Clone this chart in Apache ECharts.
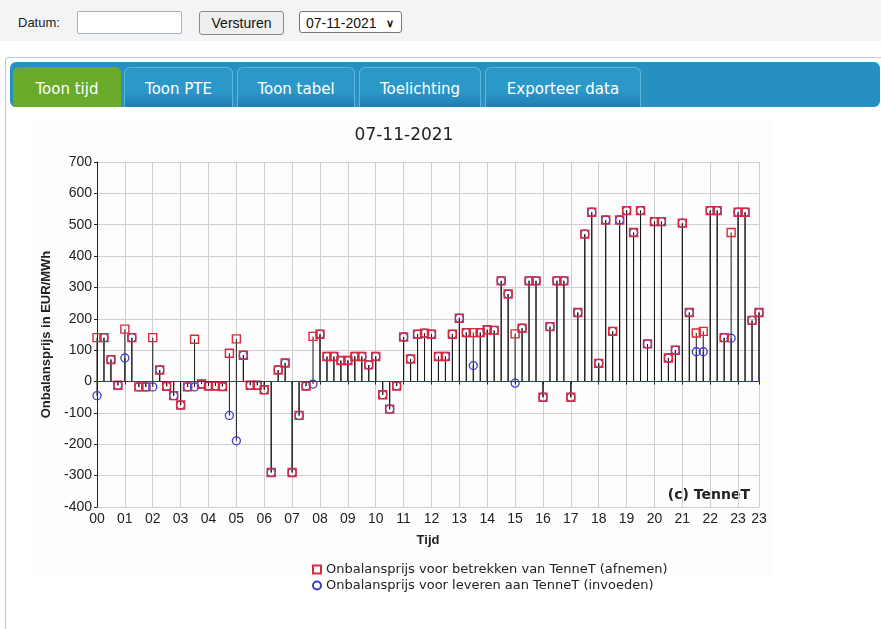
<!DOCTYPE html>
<html>
<head>
<meta charset="utf-8">
<title>Onbalansprijzen 07-11-2021</title>
<script src="https://cdn.jsdelivr.net/npm/echarts@6/dist/echarts.min.js"></script>
<style>
  html, body { margin: 0; padding: 0; width: 881px; height: 629px; overflow: hidden; background: #fff; font-family: "Liberation Sans", Arial, sans-serif; }
  .topbar { position: absolute; left: 0; top: 0; width: 881px; height: 41px; background: #f3f4f6; }
  .topbar .lbl { position: absolute; left: 18px; top: 15px; font-size: 13px; color: #222; }
  .topbar .inp { position: absolute; left: 77px; top: 11px; width: 103px; height: 21px; border: 1px solid #a9b0b8; border-radius: 2px; background: #fff; }
  .topbar .btn { position: absolute; left: 199px; top: 11px; width: 83px; height: 22px; border: 1px solid #8a8a8a; border-radius: 3px; background: #efefef; font-size: 14px; line-height: 22px; text-align: center; color: #111; }
  .topbar .sel { position: absolute; left: 299px; top: 11px; width: 103px; height: 22px; border: 1px solid #777; border-radius: 3px; background: #fff; font-size: 14px; line-height: 22px; color: #111; padding-left: 6px; box-sizing: border-box; }
  .topbar .sel span { position: absolute; right: 7px; top: 0; font-size: 11px; font-weight: bold; }
  .panel { position: absolute; left: 5px; top: 57px; width: 880px; height: 580px; border-left: 1px solid #a8d3dc; border-top: 1px solid #a8d3dc; border-top-left-radius: 4px; }
  .tabbar { position: absolute; left: 10px; top: 62px; width: 870px; height: 45px; background: #2690c0; border-radius: 6px; }
  .tab { position: absolute; top: 67px; height: 40px; border-radius: 6px 6px 0 0; color: #fff; font-family: "DejaVu Sans", Verdana, sans-serif; font-size: 15px; line-height: 42px; text-align: center; box-sizing: border-box; border: 1px solid #5bb6dd; border-bottom: none; background: linear-gradient(#2c98c8 0%, #2c98c8 60%, #1f7fb0 100%); }
  .tab.active { background: #6aaa2a; border-color: #6aaa2a; }
  .chartbox { position: absolute; left: 32px; top: 120px; width: 741px; height: 457px; background: #fdfdfd; }
  #chart { position: absolute; left: 0; top: 0; width: 881px; height: 629px; }
</style>
</head>
<body>
<div class="topbar">
  <div class="lbl">Datum:</div>
  <div class="inp"></div>
  <div class="btn">Versturen</div>
  <div class="sel">07-11-2021<span>&#x2228;</span></div>
</div>
<div class="panel"></div>
<div class="tabbar"></div>
<div class="tab active" style="left:13px;width:108px;">Toon tijd</div>
<div class="tab" style="left:124px;width:109px;">Toon PTE</div>
<div class="tab" style="left:237px;width:118px;">Toon tabel</div>
<div class="tab" style="left:359px;width:122px;">Toelichting</div>
<div class="tab" style="left:485px;width:156px;">Exporteer data</div>
<div class="chartbox"></div>
<div id="chart"></div>
<script>
  const chartTitle = '07-11-2021';
  const yName = 'Onbalansprijs in EUR/MWh';
  const xName = 'Tijd';
  const copyright = '(c) TenneT';
  const nameAfnemen = 'Onbalansprijs voor betrekken van TenneT (afnemen)';
  const nameInvoeden = 'Onbalansprijs voor leveren aan TenneT (invoeden)';

  // PTE start times (15 min), 00:00 .. 23:45
  const pteTimes = [];
  for (let h = 0; h < 24; h++) {
    for (let m = 0; m < 60; m += 15) {
      pteTimes.push(String(h).padStart(2, '0') + ':' + String(m).padStart(2, '0'));
    }
  }

  // EUR/MWh, one value per PTE
  const afnemen = [
    140, 140, 70, -12,   167, 140, -17, -17,   140, 37, -15, -45,   -75, -17, 135, -8,
    -14, -14, -16, 90,   136, 84, -12, -12,    -26, -290, 37, 59,   -290, -108, -14, 144,
    151, 80, 80, 67,     67, 80, 80, 53,       80, -42, -88, -14,   142, 72, 151, 154,
    151, 80, 80, 151,    202, 156, 156, 156,   165, 163, 321, 279,  152, 170, 321, 321,
    -50, 175, 321, 321,  -50, 220, 470, 540,   58, 515, 160, 515,   545, 475, 545, 120,
    510, 510, 75, 100,   505, 220, 155, 160,   545, 545, 140, 475,  540, 540, 195, 220
  ];
  const invoeden = [
    -45, 140, 70, -12,   75, 140, -17, -17,    -17, 37, -15, -45,   -75, -17, -17, -8,
    -14, -14, -16, -108, -189, 84, -12, -12,   -26, -290, 37, 59,   -290, -108, -14, -8,
    151, 80, 80, 67,     67, 80, 80, 53,       80, -42, -88, -14,   142, 72, 151, 154,
    151, 80, 80, 151,    202, 156, 51, 156,    165, 163, 321, 279,  -5, 170, 321, 321,
    -50, 175, 321, 321,  -50, 220, 470, 540,   58, 515, 160, 515,   545, 475, 545, 120,
    510, 510, 75, 100,   505, 220, 95, 95,     545, 545, 140, 138,  540, 540, 195, 220
  ];

  const yMin = -400, yMax = 700, yStep = 100;

  // labels on every full hour plus the last PTE
  const hourTick = (i) => i % 4 === 0 || i === pteTimes.length - 1;

  const chart = echarts.init(document.getElementById('chart'));
  chart.setOption({
    animation: false,
    textStyle: { fontFamily: '"Liberation Sans", Arial, sans-serif' },
    grid: { left: 97, right: 122, top: 162, bottom: 122 },
    legend: {
      orient: 'vertical',
      left: 307,
      top: 558,
      itemGap: 3,
      itemWidth: 8,
      itemHeight: 8,
      textStyle: { fontSize: 13, color: '#222', fontFamily: '"DejaVu Sans", Verdana, sans-serif' },
      data: [nameAfnemen, nameInvoeden]
    },
    graphic: [
      { type: 'text', x: 404, y: 127, style: { text: chartTitle, align: 'center', fontSize: 17, fill: '#222', fontFamily: '"DejaVu Sans", Verdana, sans-serif' } },
      { type: 'text', x: 750, y: 488, style: { text: copyright, align: 'right', fontSize: 14, fontWeight: 'bold', fill: '#222', fontFamily: '"DejaVu Sans", Verdana, sans-serif' } }
    ],
    xAxis: {
      type: 'category',
      data: pteTimes,
      boundaryGap: false,
      name: xName,
      nameLocation: 'middle',
      nameGap: 27,
      nameTextStyle: { fontSize: 13, fontWeight: 'bold', color: '#222' },
      axisLine: { lineStyle: { color: '#222', width: 1 } },
      axisTick: { interval: hourTick, length: 3, lineStyle: { color: '#222' } },
      axisLabel: { interval: hourTick, formatter: (v) => v.slice(0, 2), fontSize: 14, color: '#222', margin: 5 },
      splitLine: { show: true, interval: hourTick, lineStyle: { color: '#cfcfcf', width: 1 } }
    },
    yAxis: {
      type: 'value',
      min: yMin,
      max: yMax,
      interval: yStep,
      name: yName,
      nameLocation: 'middle',
      nameGap: 36,
      nameTextStyle: { fontSize: 13, fontWeight: 'bold', color: '#222' },
      axisLine: { show: true, lineStyle: { color: '#222', width: 1 } },
      axisTick: { show: true, length: 3, lineStyle: { color: '#222' } },
      axisLabel: { fontSize: 14, color: '#222', margin: 5 },
      splitLine: { lineStyle: { color: '#cfcfcf', width: 1 } }
    },
    series: [
      {
        name: 'stem-afnemen',
        type: 'bar',
        data: afnemen,
        barWidth: 1,
        barGap: '-100%',
        itemStyle: { color: '#1a1a1a' },
        silent: true
      },
      {
        name: 'stem-invoeden',
        type: 'bar',
        data: invoeden,
        barWidth: 1,
        barGap: '-100%',
        itemStyle: { color: '#1a1a1a' },
        silent: true
      },
      {
        name: nameInvoeden,
        type: 'scatter',
        data: invoeden,
        symbol: 'circle',
        symbolSize: 8,
        z: 3,
        itemStyle: { color: 'rgba(255,255,255,0)', borderColor: '#3a3ad0', borderWidth: 1.3, opacity: 1 },
        markLine: {
          silent: true,
          symbol: 'none',
          label: { show: false },
          lineStyle: { color: '#2330d8', width: 1.2, type: 'solid' },
          data: [{ yAxis: 0 }]
        }
      },
      {
        name: nameAfnemen,
        type: 'scatter',
        data: afnemen,
        symbol: 'rect',
        symbolSize: 8,
        z: 4,
        itemStyle: { color: 'rgba(255,255,255,0)', borderColor: '#d82a3a', borderWidth: 1.4, opacity: 1 }
      }
    ]
  });
</script>
</body>
</html>
